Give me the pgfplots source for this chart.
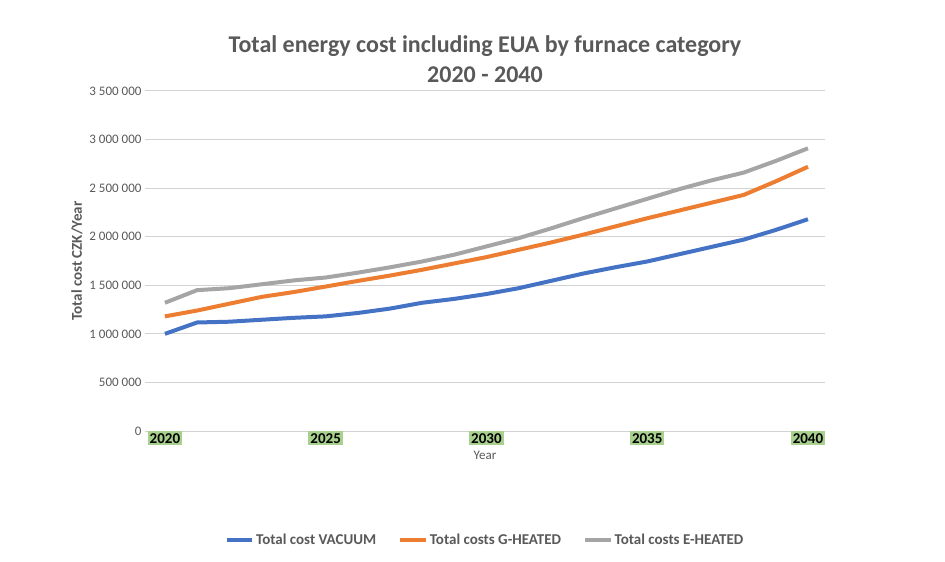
\documentclass[border=0pt]{standalone}
\usepackage{pgfplots}
\pgfplotsset{compat=1.18}
\usepackage{fontspec}
\setmainfont{Carlito}
\definecolor{cblue}{HTML}{4472C4}
\definecolor{corange}{HTML}{ED7D31}
\definecolor{cgray}{HTML}{A5A5A5}
\definecolor{tgray}{HTML}{595959}
\definecolor{hl}{HTML}{A9D18E}
\begin{document}
\begin{tikzpicture}[x=1pt,y=1pt]
\useasboundingbox (-145,-131) rectangle (800,431);
\begin{axis}[at={(0,0)},anchor=south west,scale only axis,width=680pt,height=340pt,
 xmin=2019.38,xmax=2040.53,ymin=0,ymax=3500000,
 axis line style={draw=none},ytick={0,500000,1000000,1500000,2000000,2500000,3000000,3500000},
 yticklabels={0,500 000,1 000 000,1 500 000,2 000 000,2 500 000,3 000 000,3 500 000},
 xtick={2020,2025,2030,2035,2040},
 xticklabels={2020,2025,2030,2035,2040},
 xticklabel style={font=\fontsize{15}{15}\selectfont\bfseries,fill=hl,inner sep=2pt,text=black},
 yticklabel style={font=\fontsize{13}{13}\selectfont,text=tgray},
 scaled y ticks=false,tick style={draw=none},
 ymajorgrids,grid style={draw=gray!35,line width=1pt},
 xlabel={Year},xlabel style={font=\fontsize{13}{13}\selectfont,text=tgray,yshift=-2pt},
 ylabel={\bfseries Total cost CZK/Year},ylabel style={font=\fontsize{15}{15}\selectfont,text=tgray},
 legend columns=3,legend style={at={(0.5,-0.29)},anchor=north,draw=none,font=\fontsize{15}{15}\selectfont\bfseries,text=tgray,/tikz/every even column/.append style={column sep=20pt}},
 legend image code/.code={\draw[#1,line width=4pt] (0,0) -- (0.9cm,0);},
 every axis plot/.append style={line width=4pt,line join=round}]
\addplot[cblue] coordinates {(2020,1000000)(2021,1117000)(2022,1125000)(2023,1145000)(2024,1165000)(2025,1180000)(2026,1215000)(2027,1260000)(2028,1320000)(2029,1360000)(2030,1410000)(2031,1470000)(2032,1545000)(2033,1620000)(2034,1685000)(2035,1745000)(2036,1820000)(2037,1895000)(2038,1970000)(2039,2070000)(2040,2180000)};
\addlegendentry{Total cost VACUUM}
\addplot[corange] coordinates {(2020,1180000)(2021,1240000)(2022,1310000)(2023,1380000)(2024,1430000)(2025,1487000)(2026,1545000)(2027,1600000)(2028,1660000)(2029,1725000)(2030,1790000)(2031,1865000)(2032,1940000)(2033,2020000)(2034,2105000)(2035,2190000)(2036,2270000)(2037,2350000)(2038,2430000)(2039,2570000)(2040,2720000)};
\addlegendentry{Total costs G-HEATED}
\addplot[cgray] coordinates {(2020,1320000)(2021,1450000)(2022,1470000)(2023,1510000)(2024,1550000)(2025,1580000)(2026,1630000)(2027,1685000)(2028,1745000)(2029,1815000)(2030,1900000)(2031,1985000)(2032,2085000)(2033,2190000)(2034,2290000)(2035,2390000)(2036,2490000)(2037,2580000)(2038,2660000)(2039,2780000)(2040,2910000)};
\addlegendentry{Total costs E-HEATED}
\end{axis}
\node[font=\fontsize{24}{30}\selectfont\bfseries,text=tgray,align=center] at (340,372) {Total energy cost including EUA by furnace category\\2020 - 2040};
\end{tikzpicture}
\end{document}
